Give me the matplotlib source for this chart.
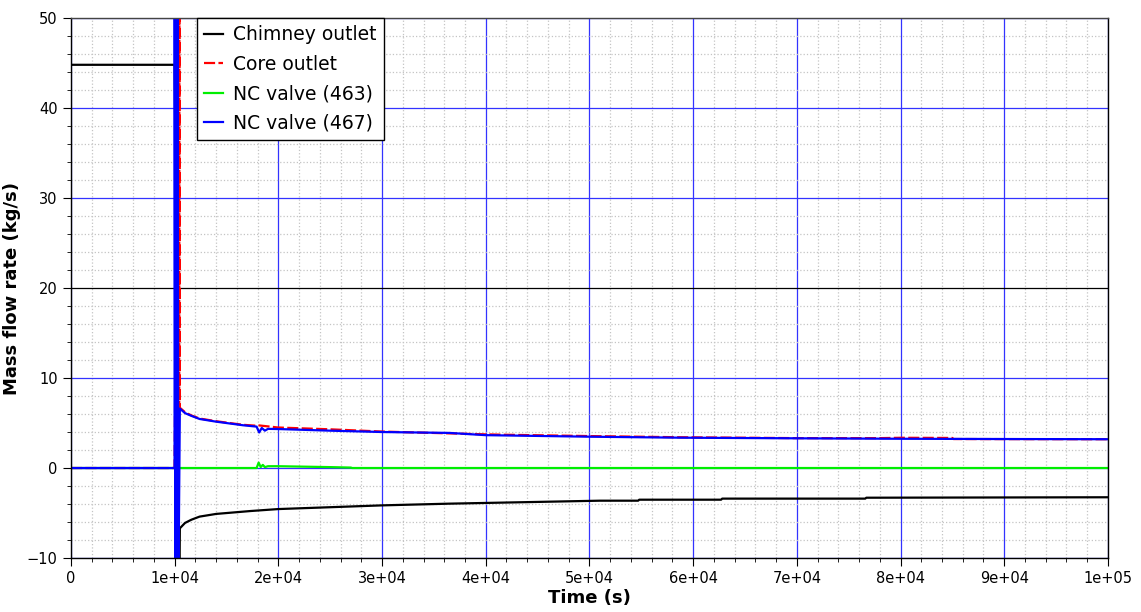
import numpy as np
import matplotlib
matplotlib.use("Agg")
import matplotlib.pyplot as plt
from matplotlib.ticker import MultipleLocator, FuncFormatter

# Chimney outlet
t_chim = [0, 9990, 10000, 10450, 10500, 11000, 11600, 12400, 14000, 17300,
          20000, 30000, 36500, 51000, 54700, 54800, 62700, 62800, 76600,
          76700, 100000]
m_chim = [44.8, 44.8, 44.8, -15.0, -6.7, -6.1, -5.75, -5.4, -5.1, -4.78,
          -4.56, -4.15, -3.96, -3.63, -3.63, -3.52, -3.52, -3.4, -3.4,
          -3.3, -3.25]

# Core outlet
t_core = [0, 9990, 10420, 10440, 10460, 10480, 10600, 11000, 11600, 12400,
          14000, 16600, 17900, 18000, 20000, 25000, 27000, 30000, 40000,
          41700, 50000, 58700, 70000, 78000, 80000, 85000, 85100, 100000]
m_core = [0, 0, 60.0, 6.7, 60.0, 6.7, 6.6, 6.2, 5.85, 5.5,
          5.2, 4.8, 4.7, 4.75, 4.5, 4.3, 4.2, 4.05, 3.74,
          3.7, 3.55, 3.42, 3.32, 3.32, 3.36, 3.34, 3.22, 3.2]

# NC valve (463)
t_463 = [0, 17900, 18100, 18300, 18500, 18700, 19000, 20000, 25000, 27000,
         27100, 100000]
m_463 = [0, 0, 0.6, 0.1, 0.35, 0.1, 0.2, 0.2, 0.1, 0.05, 0, 0]

# NC valve (467)
t_467 = [0, 9990, 10000, 10070, 10140, 10210, 10280, 10350, 10500, 11000,
         11600, 12400, 14000, 16600, 17900, 18150, 18400, 18700, 19000,
         20000, 25000, 30000, 36500, 40000, 50000, 58700, 70000, 80000,
         90000, 100000]
m_467 = [0, 0, 60.0, -15.0, 60.0, -15.0, 60.0, -15.0, 6.6, 6.1,
         5.8, 5.45, 5.15, 4.75, 4.6, 3.95, 4.45, 4.15, 4.35,
         4.33, 4.15, 4.0, 3.9, 3.65, 3.48, 3.37, 3.3, 3.25,
         3.22, 3.2]

fig = plt.figure(figsize=(11.41, 6.12), dpi=100)
ax = fig.add_axes([0.0622, 0.0882, 0.9088, 0.8824])

ax.plot(t_chim, m_chim, color='black', lw=1.6, label='Chimney outlet')
ax.plot(t_core, m_core, color='red', lw=1.6, ls=(0, (5, 1.5)), label='Core outlet')
ax.plot(t_463, m_463, color='#00ee00', lw=1.6, label='NC valve (463)')
ax.plot(t_467, m_467, color='blue', lw=1.6, label='NC valve (467)')

ax.set_xlim(0, 100000)
ax.set_ylim(-10, 50)
ax.xaxis.set_major_locator(MultipleLocator(10000))
ax.xaxis.set_minor_locator(MultipleLocator(2000))
ax.yaxis.set_major_locator(MultipleLocator(10))
ax.yaxis.set_minor_locator(MultipleLocator(2))
ax.xaxis.set_major_formatter(FuncFormatter(lambda v, p: '0' if v == 0 else f'{v:.0e}'))

ax.grid(True, which='minor', color='#c4c4c4', ls=':', lw=0.9)
ax.grid(True, which='major', color='#3333ff', ls='-', lw=0.9)
ax.set_axisbelow(True)
# die 20er-Linie ist im Original schwarz
for val, gl in zip(ax.get_yticks(), ax.get_ygridlines()):
    if abs(val - 20) < 1e-6:
        gl.set_color('black')

ax.tick_params(which='both', direction='out', top=False, right=False,
               labelsize=10.5)
ax.tick_params(which='major', length=6)
ax.tick_params(which='minor', length=3)

for s in ax.spines.values():
    s.set_color('black')
    s.set_linewidth(1.0)
ax.spines['top'].set_color('#444444')

ax.set_xlabel('Time (s)', fontsize=13, fontweight='bold', labelpad=2)
ax.set_ylabel('Mass flow rate (kg/s)', fontsize=13, fontweight='bold', labelpad=4)

leg = ax.legend(loc='upper left', bbox_to_anchor=(0.1215, 1.0), fontsize=13.5,
                frameon=True, fancybox=False, framealpha=1, edgecolor='black',
                borderaxespad=0, handlelength=1.0, handletextpad=0.5,
                labelspacing=0.55, borderpad=0.4)
leg.get_frame().set_linewidth(1.0)

fig.savefig('out.png', dpi=100)
